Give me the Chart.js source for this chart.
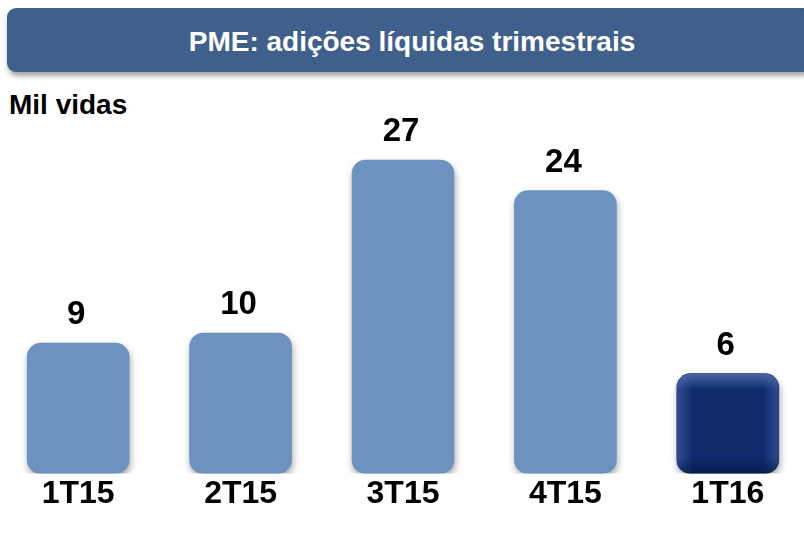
<!DOCTYPE html>
<html>
<head>
<meta charset="utf-8">
<script src="https://cdn.jsdelivr.net/npm/chart.js@4"></script>
<style>
  html, body { margin:0; padding:0; width:804px; height:533px; overflow:hidden; background:#fff; font-family:"Liberation Sans", Arial, sans-serif; }
  #header { position:absolute; left:7px; top:8px; width:805px; height:64px; background:#40608c; border-radius:9px;
            box-shadow: 1px 4px 5px rgba(0,0,0,0.35); color:#fff; font-weight:bold; font-size:28px;
            display:flex; align-items:center; justify-content:center; padding:4px 0 0 5px; box-sizing:border-box; }
  #unit { position:absolute; left:9px; top:91px; font-weight:bold; font-size:28px; line-height:28px; color:#000; }
  #wrap { position:absolute; left:-3px; top:0; width:812px; height:533px; }
</style>
</head>
<body>
<div id="header">PME: adições líquidas trimestrais</div>
<div id="unit">Mil vidas</div>
<div id="wrap"><canvas id="c"></canvas></div>
<script>
const categories = ['1T15', '2T15', '3T15', '4T15', '1T16'];
const values = [9, 10, 27, 24, 6];
const valueLabels = ['9', '10', '27', '24', '6'];
const barColors = ['#6c93c0', '#6c93c0', '#6c93c0', '#6c93c0', '#0f2b6c'];

const shadowPlugin = {
  id: 'shadow',
  beforeDatasetsDraw(chart) {
    const ctx = chart.ctx;
    ctx.save();
    ctx.shadowColor = 'rgba(0,0,0,0.35)';
    ctx.shadowBlur = 7;
    ctx.shadowOffsetX = 1;
    ctx.shadowOffsetY = 4;
  },
  afterDatasetsDraw(chart) {
    const ctx = chart.ctx;
    ctx.restore();
    const meta = chart.getDatasetMeta(0);
    const el = meta.data[meta.data.length - 1];
    const x0 = el.x - el.width / 2, x1 = el.x + el.width / 2;
    const y0 = el.y, y1 = el.base;
    const r = 14, b = 16;
    ctx.save();
    ctx.beginPath();
    ctx.roundRect(x0, y0, x1 - x0, y1 - y0, r);
    ctx.clip();
    let g = ctx.createLinearGradient(0, y0, 0, y0 + b);
    g.addColorStop(0, 'rgba(120,150,210,0.55)'); g.addColorStop(1, 'rgba(120,150,210,0)');
    ctx.fillStyle = g; ctx.fillRect(x0, y0, x1 - x0, b);
    g = ctx.createLinearGradient(x0, 0, x0 + b, 0);
    g.addColorStop(0, 'rgba(90,120,190,0.45)'); g.addColorStop(1, 'rgba(90,120,190,0)');
    ctx.fillStyle = g; ctx.fillRect(x0, y0, b, y1 - y0);
    g = ctx.createLinearGradient(x1, 0, x1 - b, 0);
    g.addColorStop(0, 'rgba(90,120,190,0.4)'); g.addColorStop(1, 'rgba(90,120,190,0)');
    ctx.fillStyle = g; ctx.fillRect(x1 - b, y0, b, y1 - y0);
    g = ctx.createLinearGradient(0, y1, 0, y1 - b);
    g.addColorStop(0, 'rgba(0,10,40,0.5)'); g.addColorStop(1, 'rgba(0,10,40,0)');
    ctx.fillStyle = g; ctx.fillRect(x0, y1 - b, x1 - x0, b);
    ctx.restore();
    ctx.save();
    ctx.fillStyle = '#000';
    ctx.font = 'bold 33px "Liberation Sans", Arial, sans-serif';
    ctx.textAlign = 'center';
    ctx.textBaseline = 'middle';
    meta.data.forEach((bar, i) => {
      ctx.fillText(valueLabels[i], bar.x - 2, bar.y - 28);
    });
    ctx.restore();
  }
};

new Chart(document.getElementById('c'), {
  type: 'bar',
  data: {
    labels: categories,
    datasets: [{
      data: values,
      base: -3.82,
      backgroundColor: barColors,
      borderRadius: 14,
      borderSkipped: false,
      barThickness: 102
    }]
  },
  options: {
    responsive: true,
    maintainAspectRatio: false,
    animation: false,
    layout: { padding: { top: 100, bottom: 19, left: 0, right: 0 } },
    plugins: { legend: { display: false }, tooltip: { enabled: false } },
    scales: {
      x: {
        grid: { display: false, drawTicks: false },
        border: { display: false },
        ticks: { color: '#000', padding: 1, font: { family: '"Liberation Sans", Arial, sans-serif', size: 32, weight: 'bold' } }
      },
      y: { display: false, min: -3.82, max: 32.9 }
    }
  },
  plugins: [shadowPlugin]
});
</script>
</body>
</html>
